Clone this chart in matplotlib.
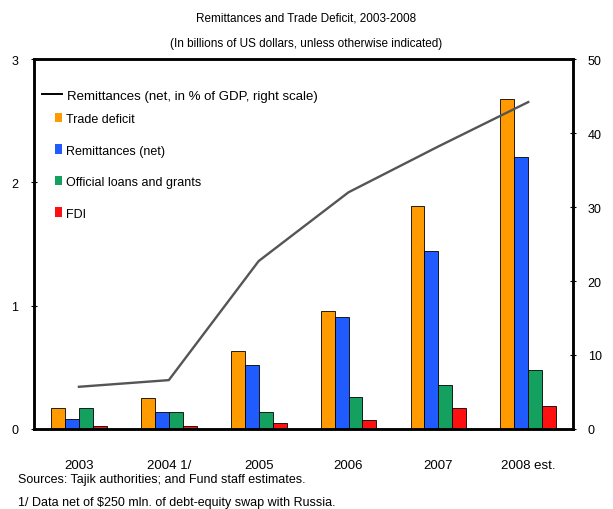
import matplotlib.pyplot as plt
import numpy as np
from matplotlib.lines import Line2D
from matplotlib.patches import Patch

plt.rcParams['font.family'] = ['Liberation Sans', 'DejaVu Sans']

# ---------------------------------------------------------------------------
# Data (billions of US dollars; remittances share in % of GDP)
# ---------------------------------------------------------------------------
years = ['2003', '2004 1/', '2005', '2006', '2007', '2008 est.']
trade_deficit = [0.17, 0.25, 0.63, 0.96, 1.81, 2.68]
remittances = [0.08, 0.14, 0.52, 0.91, 1.44, 2.21]
official_loans = [0.17, 0.14, 0.14, 0.26, 0.36, 0.48]
fdi = [0.02, 0.02, 0.05, 0.07, 0.17, 0.19]
remit_pct_gdp = [5.7, 6.6, 22.7, 32.0, 38.2, 44.2]

bar_series = [
    ('Trade deficit', trade_deficit, '#FF9A00'),
    ('Remittances (net)', remittances, '#1F5BFF'),
    ('Official loans and grants', official_loans, '#14A05E'),
    ('FDI', fdi, '#FF1010'),
]

fig = plt.figure(figsize=(6.13, 5.10), dpi=100)
ax = fig.add_axes([0.0555, 0.157, 0.8795, 0.725])

x = np.arange(len(years))
w = 0.155
for i, (label, vals, color) in enumerate(bar_series):
    ax.bar(x + (i - 1.5) * w, vals, width=w, color=color,
           edgecolor='black', linewidth=0.6, zorder=2)

ax.set_xlim(-0.5, len(years) - 0.5)
ax.set_ylim(0, 3)
ax.set_yticks([0, 1, 2, 3])
ax.set_xticks(x)
ax.set_xticklabels(years, fontsize=9.5)
ax.tick_params(axis='x', length=0, pad=22)
ax.tick_params(axis='y', direction='inout', length=5, labelsize=9, pad=9)
for s in ax.spines.values():
    s.set_linewidth(1.8)

# Remittances as share of GDP on the right scale
ax2 = ax.twinx()
ax2.plot(x, remit_pct_gdp, color='#555555', linewidth=1.7, zorder=3)
ax2.set_ylim(0, 50)
ax2.set_yticks([0, 10, 20, 30, 40, 50])
ax2.tick_params(axis='y', direction='inout', length=5, labelsize=9, pad=8)
for s in ax2.spines.values():
    s.set_linewidth(1.8)

# Legend: the line entry, then square swatches for the bars
leg1 = ax.legend([Line2D([0], [0], color='black', linewidth=1.4)],
                 ['Remittances (net, in % of GDP, right scale)'],
                 loc='upper left', bbox_to_anchor=(0.0, 0.94), frameon=False,
                 fontsize=9.5, handlelength=1.5, handletextpad=0.4,
                 borderaxespad=0.2)
ax.add_artist(leg1)
handles = [Patch(facecolor=c, edgecolor='none') for _, _, c in bar_series]
ax.legend(handles, [s[0] for s in bar_series], loc='upper left',
          bbox_to_anchor=(0.025, 0.875), frameon=False, fontsize=9,
          handlelength=0.6, handleheight=0.8, handletextpad=0.3,
          labelspacing=1.55, borderaxespad=0.2)

fig.text(0.5, 0.963, 'Remittances and Trade Deficit, 2003-2008',
         ha='center', va='center', fontsize=8.5)
fig.text(0.5, 0.913, '(In billions of US dollars, unless otherwise indicated)',
         ha='center', va='center', fontsize=8.5)

fig.text(0.03, 0.058, 'Sources: Tajik authorities; and Fund staff estimates.',
         ha='left', va='center', fontsize=9)
fig.text(0.03, 0.014, '1/ Data net of $250 mln. of debt-equity swap with Russia.',
         ha='left', va='center', fontsize=9)

fig.savefig('out.png', dpi=100, facecolor='white')
